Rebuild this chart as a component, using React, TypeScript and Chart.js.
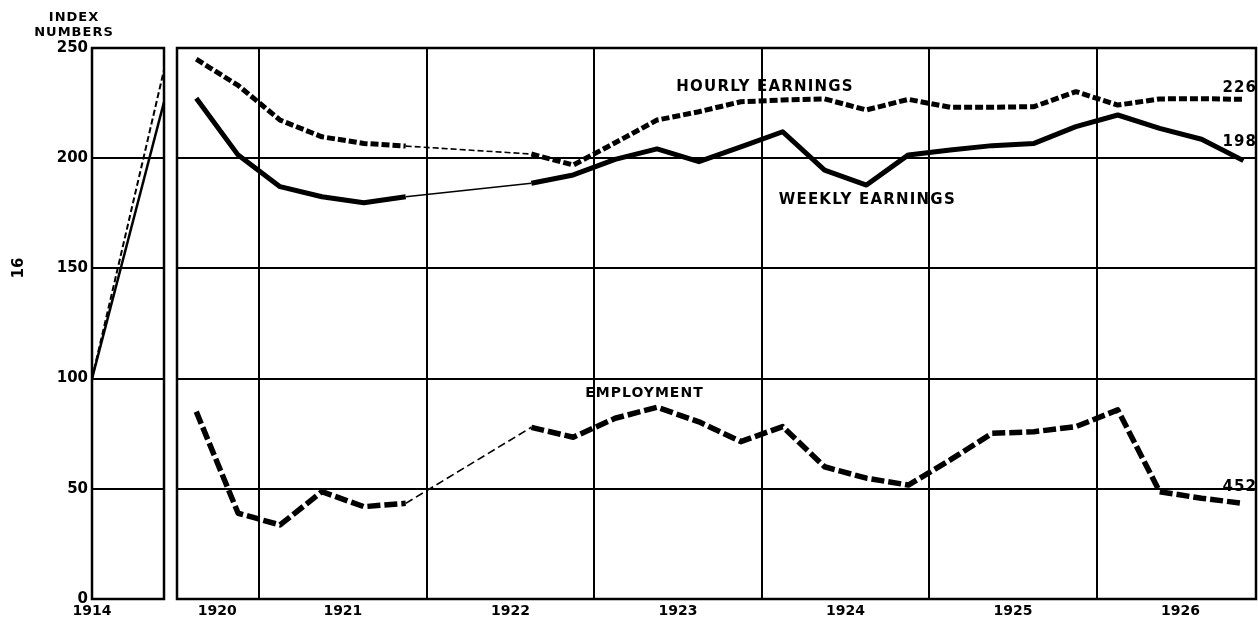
import React, { useEffect, useRef } from "react";
import { Chart, registerables } from "chart.js";

Chart.register(...registerables);

const FONT = "'DejaVu Sans', 'Liberation Sans', sans-serif";

// ---- Data ----
// Quarterly observations, "year-quarter"
const quarters = [
  "1920-3", "1920-4",
  "1921-1", "1921-2", "1921-3", "1921-4",
  "1922-1", "1922-2", "1922-3", "1922-4",
  "1923-1", "1923-2", "1923-3", "1923-4",
  "1924-1", "1924-2", "1924-3", "1924-4",
  "1925-1", "1925-2", "1925-3", "1925-4",
  "1926-1", "1926-2", "1926-3", "1926-4",
];

const hourlyEarnings = [
  244.9, 233,
  217.3, 209.7, 206.7, 205.5,
  null, null, 201.9, 196.9,
  207, 217.3, 221.1, 225.6,
  226.4, 226.9, 221.9, 226.7,
  223.1, 223.1, 223.4, 230.2,
  224.1, 226.9, 227, 226.7,
];

const weeklyEarnings = [
  227.2, 201.4,
  187.1, 182.5, 179.8, 182.5,
  null, null, 188.6, 192.4,
  199.5, 204.2, 198.4, 205.1,
  212, 194.6, 187.8, 201.5,
  203.7, 205.7, 206.7, 214.3,
  219.6, 213.5, 208.6, 198.9,
];

const employment = [
  85.0, 38.9,
  33.6, 48.7, 41.9, 43.4,
  null, null, 77.9, 73.4,
  82.0, 87.0, 80.4, 71.4,
  78.2, 60.0, 54.8, 51.7,
  63.1, 75.2, 75.9, 78.2,
  85.8, 48.7, 45.7, 43.4,
];

// Pre-war panel (1914 base = 100)
const prewarYears = [1914, 1920.5];
const prewarHourly = [100, 240];
const prewarWeekly = [100, 225.5];
const baseYearLabel = "1914";

// Axes
const yTicks = [0, 50, 100, 150, 200, 250];
const yearBoundaries = [1921, 1922, 1923, 1924, 1925, 1926];
const yearLabels = ["1920", "1921", "1922", "1923", "1924", "1925", "1926"];
const yearLabelPositions = [1920.75, 1921.5, 1922.5, 1923.5, 1924.5, 1925.5, 1926.5];

// Text on the chart
const seriesLabels = [
  { text: "HOURLY EARNINGS", x: 1924.02, y: 232.3, size: 15, spacing: 1.2, align: "center" },
  { text: "WEEKLY EARNINGS", x: 1924.63, y: 181, size: 15, spacing: 1.2, align: "center" },
  { text: "EMPLOYMENT", x: 1923.3, y: 93.5, size: 14, spacing: 1, align: "center" },
  { text: "226", x: 1926.955, y: 231.8, size: 15, spacing: 1, align: "right" },
  { text: "198", x: 1926.955, y: 207.3, size: 15, spacing: 1, align: "right" },
  { text: "452", x: 1926.955, y: 50.8, size: 15, spacing: 1, align: "right" },
];

const MAIN_MIN = 1920.51;
const MAIN_MAX = 1926.95;

const quarterX = (label: string) => {
  const [y, q] = label.split("-").map(Number);
  return y + (q - 0.5) / 4;
};

const series = (values: (number | null)[]) =>
  quarters.map((q, i) => ({ x: quarterX(q), y: values[i] }));

const gap = (ctx: any) => ctx.p0.skip || ctx.p1.skip;

const framePlugin = {
  id: "frame",
  beforeDatasetsDraw(chart: any) {
    const { ctx, chartArea: a } = chart;
    ctx.save();
    ctx.strokeStyle = "#000";
    ctx.lineWidth = 2.5;
    ctx.strokeRect(a.left, a.top, a.right - a.left, a.bottom - a.top);
    ctx.restore();
  },
};

const labelPlugin = {
  id: "seriesLabels",
  afterDatasetsDraw(chart: any) {
    const { ctx, scales } = chart;
    ctx.save();
    ctx.fillStyle = "#000";
    ctx.textBaseline = "middle";
    for (const l of seriesLabels) {
      ctx.font = `bold ${l.size}px ${FONT}`;
      (ctx as any).letterSpacing = `${l.spacing}px`;
      ctx.textAlign = l.align as CanvasTextAlign;
      ctx.fillText(l.text, scales.x.getPixelForValue(l.x), scales.y.getPixelForValue(l.y));
    }
    ctx.restore();
  },
};

const sidePlugin = {
  id: "sideText",
  afterDraw(chart: any) {
    const { ctx } = chart;
    ctx.save();
    ctx.fillStyle = "#000";
    ctx.textAlign = "center";
    ctx.textBaseline = "middle";
    ctx.font = `bold 13px ${FONT}`;
    (ctx as any).letterSpacing = "1px";
    ctx.fillText("INDEX", 74, 18);
    ctx.fillText("NUMBERS", 74, 33);
    (ctx as any).letterSpacing = "0px";
    ctx.translate(19, 268);
    ctx.rotate(-Math.PI / 2);
    ctx.font = `bold 15px ${FONT}`;
    ctx.fillText("16", 0, 0);
    ctx.restore();
  },
};

export default function App() {
  const leftRef = useRef<HTMLCanvasElement>(null);
  const mainRef = useRef<HTMLCanvasElement>(null);

  useEffect(() => {
    Chart.defaults.font.family = FONT;
    Chart.defaults.color = "#000";

    const left = new Chart(leftRef.current!, {
      type: "line",
      data: {
        datasets: [
          {
            label: "Hourly earnings",
            data: prewarYears.map((x, i) => ({ x, y: prewarHourly[i] })),
            borderColor: "#000",
            borderWidth: 2,
            borderDash: [6, 3],
            pointRadius: 0,
          },
          {
            label: "Weekly earnings",
            data: prewarYears.map((x, i) => ({ x, y: prewarWeekly[i] })),
            borderColor: "#000",
            borderWidth: 2.5,
            pointRadius: 0,
          },
        ],
      },
      options: {
        animation: false,
        responsive: false,
        devicePixelRatio: 1,
        layout: { padding: { left: 0, right: 8, top: 48, bottom: 0 } },
        plugins: { legend: { display: false }, tooltip: { enabled: false } },
        scales: {
          x: {
            type: "linear",
            min: prewarYears[0],
            max: prewarYears[1],
            afterBuildTicks: (s: any) => {
              s.ticks = [{ value: prewarYears[0] }];
            },
            ticks: {
              callback: () => baseYearLabel,
              font: { weight: "bold", size: 14 },
              color: "#000",
              padding: 4,
              maxRotation: 0,
              autoSkip: false,
            },
            grid: { display: false, drawTicks: false },
            border: { display: false },
            afterFit: (s: any) => {
              s.height = 22;
            },
          },
          y: {
            min: 0,
            max: 250,
            afterBuildTicks: (s: any) => {
              s.ticks = yTicks.map((v) => ({ value: v }));
            },
            ticks: {
              font: { weight: "bold", size: 15 },
              color: "#000",
              padding: 4,
            },
            grid: { color: "#000", lineWidth: 2, drawTicks: false },
            border: { display: false },
            afterFit: (s: any) => {
              s.width = 92;
            },
          },
        },
      },
      plugins: [framePlugin, sidePlugin],
    } as any);

    const thickDataset = (label: string, values: (number | null)[], dash: number[], thinDash: number[], width: number) => ({
      label,
      data: series(values),
      borderColor: "#000",
      borderWidth: width,
      borderDash: dash,
      borderCapStyle: "butt",
      borderJoinStyle: "round",
      spanGaps: true,
      pointRadius: 0,
      segment: {
        borderWidth: (ctx: any) => (gap(ctx) ? 1.6 : undefined),
        borderDash: (ctx: any) => (gap(ctx) ? thinDash : undefined),
      },
    });

    const main = new Chart(mainRef.current!, {
      type: "line",
      data: {
        datasets: [
          thickDataset("Hourly earnings", hourlyEarnings, [8, 3], [6, 3], 5),
          thickDataset("Weekly earnings", weeklyEarnings, [], [], 5),
          thickDataset("Employment", employment, [13, 4], [8, 4], 5.5),
        ],
      },
      options: {
        animation: false,
        responsive: false,
        devicePixelRatio: 1,
        layout: { padding: { left: 5, right: 2, top: 48, bottom: 0 } },
        plugins: { legend: { display: false }, tooltip: { enabled: false } },
        scales: {
          x: {
            type: "linear",
            min: MAIN_MIN,
            max: MAIN_MAX,
            afterBuildTicks: (s: any) => {
              s.ticks = yearBoundaries.map((v) => ({ value: v }));
            },
            ticks: { display: false },
            grid: { color: "#000", lineWidth: 2, drawTicks: false },
            border: { display: false },
            afterFit: (s: any) => {
              s.height = 0;
            },
          },
          xLabels: {
            type: "linear",
            position: "bottom",
            min: MAIN_MIN,
            max: MAIN_MAX,
            afterBuildTicks: (s: any) => {
              s.ticks = yearLabelPositions.map((v) => ({ value: v }));
            },
            ticks: {
              callback: (_v: any, i: number) => yearLabels[i],
              font: { weight: "bold", size: 14 },
              color: "#000",
              padding: 4,
              maxRotation: 0,
              autoSkip: false,
            },
            grid: { display: false, drawTicks: false },
            border: { display: false },
            afterFit: (s: any) => {
              s.height = 22;
            },
          },
          y: {
            min: 0,
            max: 250,
            afterBuildTicks: (s: any) => {
              s.ticks = yTicks.map((v) => ({ value: v }));
            },
            ticks: { display: false },
            grid: { color: "#000", lineWidth: 2, drawTicks: false },
            border: { display: false },
            afterFit: (s: any) => {
              s.width = 0;
            },
          },
        },
      },
      plugins: [framePlugin, labelPlugin],
    } as any);

    return () => {
      left.destroy();
      main.destroy();
    };
  }, []);

  return (
    <div
      style={{
        position: "fixed",
        left: 0,
        top: 0,
        width: 1258,
        height: 621,
        background: "#fff",
        overflow: "hidden",
      }}
    >
      <canvas
        ref={leftRef}
        width={172}
        height={621}
        style={{ position: "absolute", left: 0, top: 0 }}
      />
      <canvas
        ref={mainRef}
        width={1086}
        height={621}
        style={{ position: "absolute", left: 172, top: 0 }}
      />
    </div>
  );
}
